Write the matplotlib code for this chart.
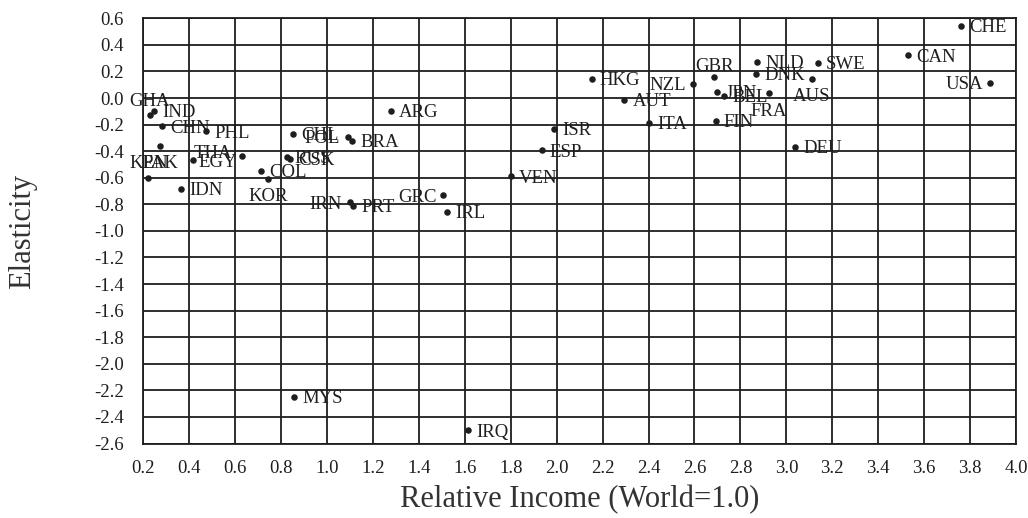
import matplotlib

matplotlib.use("Agg")
import matplotlib.pyplot as plt
import numpy as np

# data
countries = [
    "GHA", "IND", "CHN", "PHL", "PAK", "KEN", "EGY", "THA", "IDN", "COL",
    "KOR", "CHL", "POL", "BRA", "RUS", "CSK", "ARG", "IRN", "PRT", "GRC",
    "IRL", "MYS", "IRQ", "VEN", "ESP", "ISR", "HKG", "AUT", "ITA", "NZL",
    "GBR", "JPN", "BEL", "FIN", "FRA", "NLD", "DNK", "AUS", "SWE", "DEU",
    "CAN", "USA", "CHE",
]
relative_income = [
    0.229, 0.247, 0.280, 0.473, 0.273, 0.222, 0.418, 0.628, 0.363, 0.712,
    0.744, 0.853, 1.093, 1.109, 0.824, 0.839, 1.278, 1.100, 1.114, 1.506,
    1.521, 0.857, 1.615, 1.800, 1.934, 1.988, 2.152, 2.294, 2.402, 2.592,
    2.686, 2.700, 2.728, 2.692, 2.925, 2.874, 2.870, 3.110, 3.136, 3.037,
    3.530, 3.889, 3.760,
]
elasticity = [
    -0.126, -0.099, -0.214, -0.251, -0.364, -0.602, -0.469, -0.434, -0.684, -0.547,
    -0.607, -0.271, -0.293, -0.320, -0.444, -0.459, -0.095, -0.785, -0.810, -0.732,
    -0.857, -2.248, -2.502, -0.589, -0.394, -0.233, 0.145, -0.013, -0.188, 0.108,
    0.155, 0.044, 0.017, -0.171, 0.038, 0.271, 0.179, 0.145, 0.263, -0.368,
    0.320, 0.113, 0.544,
]
x_ticks = np.arange(0.2, 4.01, 0.2)
y_ticks = np.arange(-2.6, 0.61, 0.2)

# label placement (offset in points, horizontal alignment); default is to the right
RIGHT = (6, -4.5, "left")
label_pos = {
    "GHA": (0, 6.3, "center"),
    "KEN": (0, 7.5, "center"),
    "PAK": (0, -15.3, "center"),
    "THA": (-7, -1.6, "right"),
    "EGY": (4, -4.5, "left"),
    "KOR": (0, -16.0, "center"),
    "POL": (-6, -4.5, "right"),
    "IRN": (-6, -4.5, "right"),
    "GRC": (-5, -4.5, "right"),
    "NZL": (-5, -4.5, "right"),
    "GBR": (0, 4.7, "center"),
    "FRA": (0, -16.5, "center"),
    "AUS": (0, -16.0, "center"),
    "USA": (-5, -4.5, "right"),
}

plt.rcParams["font.family"] = ["Liberation Serif", "DejaVu Serif"]
plt.rcParams["axes.unicode_minus"] = False
ink = "#1e1e1e"

fig = plt.figure(figsize=(10.28, 5.18), dpi=100)
ax = fig.add_axes([0.1394, 0.1438, 0.8489, 0.8209])

ax.scatter(relative_income, elasticity, s=22, color=ink, zorder=3, linewidths=0)
for name, xv, yv in zip(countries, relative_income, elasticity):
    dx, dy, ha = label_pos.get(name, RIGHT)
    ax.annotate(
        name, (xv, yv), xytext=(dx, dy), textcoords="offset points",
        ha=ha, va="baseline", fontsize=13.5, color=ink, zorder=4,
    )

ax.set_xlim(0.2, 4.0)
ax.set_ylim(-2.6, 0.6)
ax.set_xticks(x_ticks)
ax.set_yticks(y_ticks)
ax.set_xticklabels([f"{v:.1f}" for v in x_ticks])
ax.set_yticklabels([f"{v:.1f}".replace("-0.0", "0.0") for v in y_ticks])
ax.tick_params(axis="both", length=0, labelsize=13.5, labelcolor=ink)
ax.tick_params(axis="y", pad=14)
ax.tick_params(axis="x", pad=12)
ax.grid(True, color=ink, linewidth=1.3)
ax.set_axisbelow(True)
for spine in ax.spines.values():
    spine.set_color(ink)
    spine.set_linewidth(1.3)

fig.text(0.0224, 0.554, "Elasticity", rotation=90, ha="center", va="center",
         fontsize=22, color="#333333")
fig.text(0.564, 0.035, "Relative Income (World=1.0)", ha="center", va="center",
         fontsize=22, color="#333333")

fig.savefig("out.png", dpi=100, facecolor="white")
